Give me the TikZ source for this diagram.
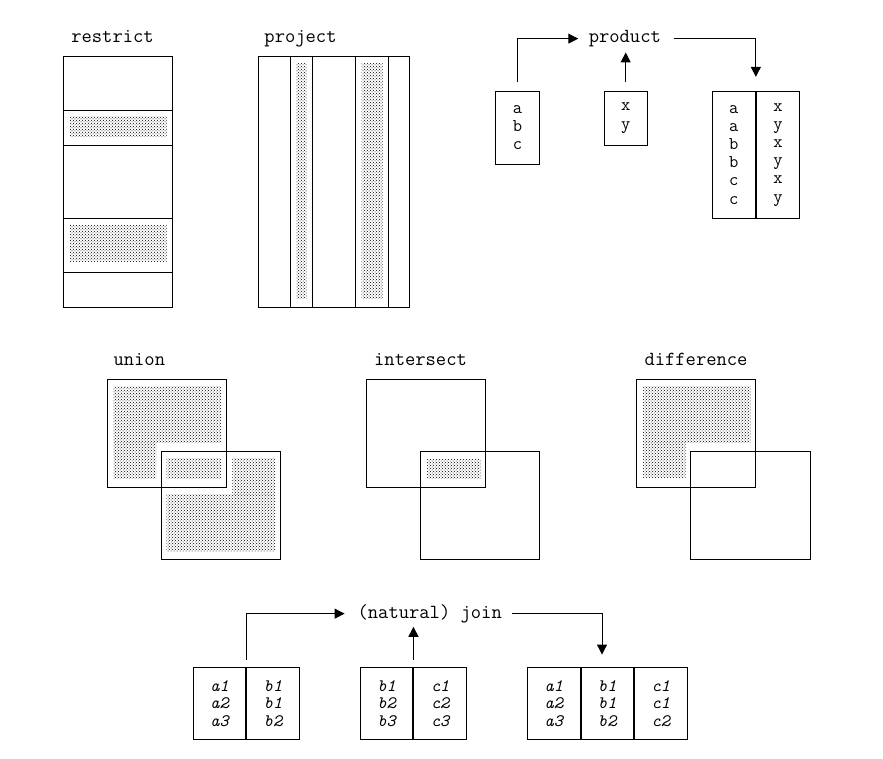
\documentclass[tikz,border=0pt]{standalone}
\usetikzlibrary{arrows.meta,patterns}

\begin{document}
\begin{tikzpicture}[x=1pt,y=-1pt,line width=1pt,
  lbl/.style={font=\ttfamily\fontsize{20}{20}\selectfont,inner sep=0pt,anchor=base},
  prodcol/.style={draw,font=\ttfamily\fontsize{18}{18.2}\selectfont,align=center,inner sep=0pt,minimum width=43.3pt},
  joincol/.style={draw,font=\ttfamily\itshape\fontsize{17.5}{17.5}\selectfont,align=center,inner sep=0pt,minimum width=52.5pt,minimum height=71.7pt},
  dotfill/.style={pattern=crosshatch dots,pattern color=black},
  arr/.style={-{Triangle[width=10pt,length=10pt]}}]

\useasboundingbox (0,0) rectangle (883,758);

\node[lbl] (restrict) at (112.5,42.5) {restrict};
\fill[dotfill] (70,116.7) rectangle (166.7,136.7);
\fill[dotfill] (70,225) rectangle (166.7,261.7);
\draw (63.3,56) rectangle (172,307);
\foreach \y in {110,145.3,218.3,272.3} \draw (63.3,\y) -- (172,\y);

\node[lbl] (project) at (300.5,42.5) {project};
\fill[dotfill] (296.7,63.3) rectangle (306.7,298.3);
\fill[dotfill] (361.7,63.3) rectangle (382.7,298.3);
\draw (258.3,56) rectangle (409.5,307);
\foreach \x in {290.7,312.3,355.3,388.3} \draw (\x,56) -- (\x,307);

\node[lbl] (product) at (624.8,42.5) {product};
\node[prodcol,minimum height=73pt] (abc) at (517.5,127.5) {a\\b\\c};
\node[prodcol,minimum height=54.3pt] (xy) at (625.7,118.2) {x\\y};
\node[prodcol,minimum height=127.3pt] (pa) at (733.7,154.7) {a\\a\\b\\b\\c\\c};
\node[prodcol,minimum height=127.3pt,anchor=west] (pb) at (pa.east) {x\\y\\x\\y\\x\\y};
\draw[arr,shorten <=9pt,shorten >=10pt] (abc.north) |- (product.west);
\draw[arr,shorten <=9pt,shorten >=5pt] (xy.north) -- (xy.north |- product.south);
\draw[arr,shorten <=12.5pt,shorten >=13.7pt] (product.east) -| (pa.north east);

\node[lbl] (union) at (139.3,365.7) {union};
\fill[dotfill] (113.3,386.7) rectangle (221,442.3);
\fill[dotfill] (113.3,442.3) rectangle (156,478.3);
\fill[dotfill] (166.7,458.3) rectangle (221,478.3);
\fill[dotfill] (232.3,458.3) rectangle (275,494.3);
\fill[dotfill] (166.7,494.3) rectangle (275,551.7);
\draw (107.3,379) rectangle (226,487.3);
\draw (161,451.7) rectangle (280,559);

\node[lbl] (intersect) at (420.5,365.7) {intersect};
\fill[dotfill] (426.7,459) rectangle (480.7,478.3);
\draw (366.7,379) rectangle (485.7,487.3);
\draw (420.7,451.7) rectangle (539.3,559);

\node[lbl] (difference) at (696,365.7) {difference};
\fill[dotfill] (642.7,386.7) rectangle (750.7,442.3);
\fill[dotfill] (642.7,442.3) rectangle (685.7,477.7);
\draw (636,379) rectangle (755.7,487.3);
\draw (690.3,451.7) rectangle (810,559);

\node[lbl] (join) at (429.7,618.3) {(natural) join};
\node[joincol] (ja) at (219.5,703.2) {a1\\a2\\a3};
\node[joincol,anchor=west] (jb) at (ja.east) {b1\\b1\\b2};
\node[joincol] (jc) at (386.7,703.2) {b1\\b2\\b3};
\node[joincol,anchor=west] (jd) at (jc.east) {c1\\c2\\c3};
\node[joincol] (je) at (553.8,703.2) {a1\\a2\\a3};
\node[joincol,anchor=west] (jf) at (je.east) {b1\\b1\\b2};
\node[joincol,anchor=west] (jg) at (jf.east) {c1\\c1\\c2};
\draw[arr,shorten <=7.3pt,shorten >=12.5pt] (ja.north east) |- (join.west);
\draw[arr,shorten <=7.3pt,shorten >=3.4pt] (jc.north east) -- (jc.north east |- join.south);
\draw[arr,shorten <=10pt,shorten >=12.3pt] (join.east) -| ([xshift=-5.3pt]jf.north);
\end{tikzpicture}
\end{document}
